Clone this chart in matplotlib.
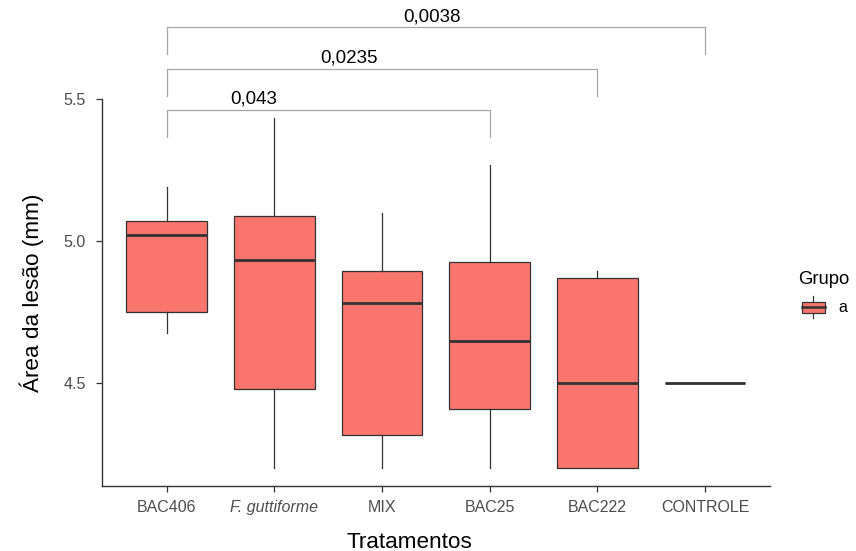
import matplotlib
matplotlib.use("Agg")
import matplotlib.pyplot as plt
from matplotlib.patches import Rectangle
from matplotlib.lines import Line2D
from matplotlib.legend_handler import HandlerBase

plt.rcParams['font.family'] = ['Liberation Sans', 'DejaVu Sans']

# dados
tratamentos = ["BAC406", "F. guttiforme", "MIX", "BAC25", "BAC222", "CONTROLE"]
whisker_low = [4.675, 4.2, 4.2, 4.2, 4.2, 4.5]
q1 = [4.75, 4.477, 4.315, 4.407, 4.2, 4.5]
mediana = [5.022, 4.932, 4.781, 4.647, 4.5, 4.5]
q3 = [5.07, 5.089, 4.894, 4.926, 4.87, 4.5]
whisker_high = [5.191, 5.434, 5.097, 5.267, 4.894, 4.5]

# comparacoes (grupo1, grupo2, p-valor)
comp_a = [1, 1, 1]
comp_b = [4, 5, 6]
p_labels = ["0,043", "0,0235", "0,0038"]
bracket_y = [5.461, 5.605, 5.753]
label_x = [1.812, 2.697, 3.466]

fill = "#F8766D"
edge = "#333333"

fig = plt.figure(figsize=(8.56, 5.51), dpi=100)
ax = fig.add_axes([0.1192, 0.118, 0.7798, 0.7023])

stats = []
for i, nome in enumerate(tratamentos):
    stats.append(dict(label=nome, whislo=whisker_low[i], q1=q1[i], med=mediana[i],
                      q3=q3[i], whishi=whisker_high[i], fliers=[]))

pos = list(range(1, len(tratamentos) + 1))
ax.bxp(stats, positions=pos, widths=0.75, patch_artist=True, showcaps=False,
       boxprops=dict(facecolor=fill, edgecolor=edge, linewidth=0.9),
       whiskerprops=dict(color=edge, linewidth=0.9),
       medianprops=dict(color=edge, linewidth=2.0))

ax.set_xlim(0.4, 6.6)
ax.set_ylim(4.135, 5.5)
ax.set_yticks([4.5, 5.0, 5.5])
ax.set_yticklabels(["4.5", "5.0", "5.5"])

for s in ["top", "right"]:
    ax.spines[s].set_visible(False)
for s in ["left", "bottom"]:
    ax.spines[s].set_color("#333333")
    ax.spines[s].set_linewidth(1.0)
ax.tick_params(axis="both", colors="#333333", length=4, width=0.9,
               labelcolor="#4D4D4D", labelsize=11.5)
ax.tick_params(axis="x", pad=6)
ax.tick_params(axis="y", pad=7.5)
ax.get_xticklabels()[1].set_fontstyle("italic")

ax.set_xlabel("Tratamentos", fontsize=16.2)
ax.xaxis.set_label_coords(0.461, -0.118)
ax.set_ylabel("Área da lesão (mm)", fontsize=16.2, labelpad=14)

# colchetes de significancia
tip = 0.095
for a, b, y, lab, lx in zip(comp_a, comp_b, bracket_y, p_labels, label_x):
    ax.plot([a, a, b, b], [y - tip, y, y, y - tip], color="#A6A6A6",
            linewidth=0.9, clip_on=False)
    ax.text(lx, y + 0.008, lab, ha="center", va="bottom", fontsize=13.5,
            clip_on=False)


class BoxHandler(HandlerBase):
    def create_artists(self, legend, orig_handle, xdescent, ydescent,
                       width, height, fontsize, trans):
        x0, y0 = -xdescent + width * 0.16, -ydescent
        w = width * 0.84
        xm = x0 + w / 2
        rect = Rectangle((x0, y0 + height * 0.25), w, height * 0.5,
                         facecolor=fill, edgecolor=edge, linewidth=0.9,
                         transform=trans)
        med = Line2D([x0, x0 + w], [y0 + height / 2] * 2, color=edge,
                     linewidth=1.8, transform=trans)
        w1 = Line2D([xm, xm], [y0 + height * 0.75, y0 + height], color=edge,
                    linewidth=0.9, transform=trans)
        w2 = Line2D([xm, xm], [y0, y0 + height * 0.25], color=edge,
                    linewidth=0.9, transform=trans)
        return [w1, w2, rect, med]


handle = Rectangle((0, 0), 1, 1)
leg = fig.legend([handle], ["a"], title="Grupo", loc="upper left",
                 bbox_to_anchor=(0.925, 0.52), frameon=False,
                 handler_map={Rectangle: BoxHandler()},
                 handlelength=1.65, handleheight=1.8, handletextpad=0.85,
                 fontsize=11.5, title_fontsize=13.3, borderaxespad=0)
leg._legend_box.align = "left"

fig.savefig("out.png", dpi=100)
